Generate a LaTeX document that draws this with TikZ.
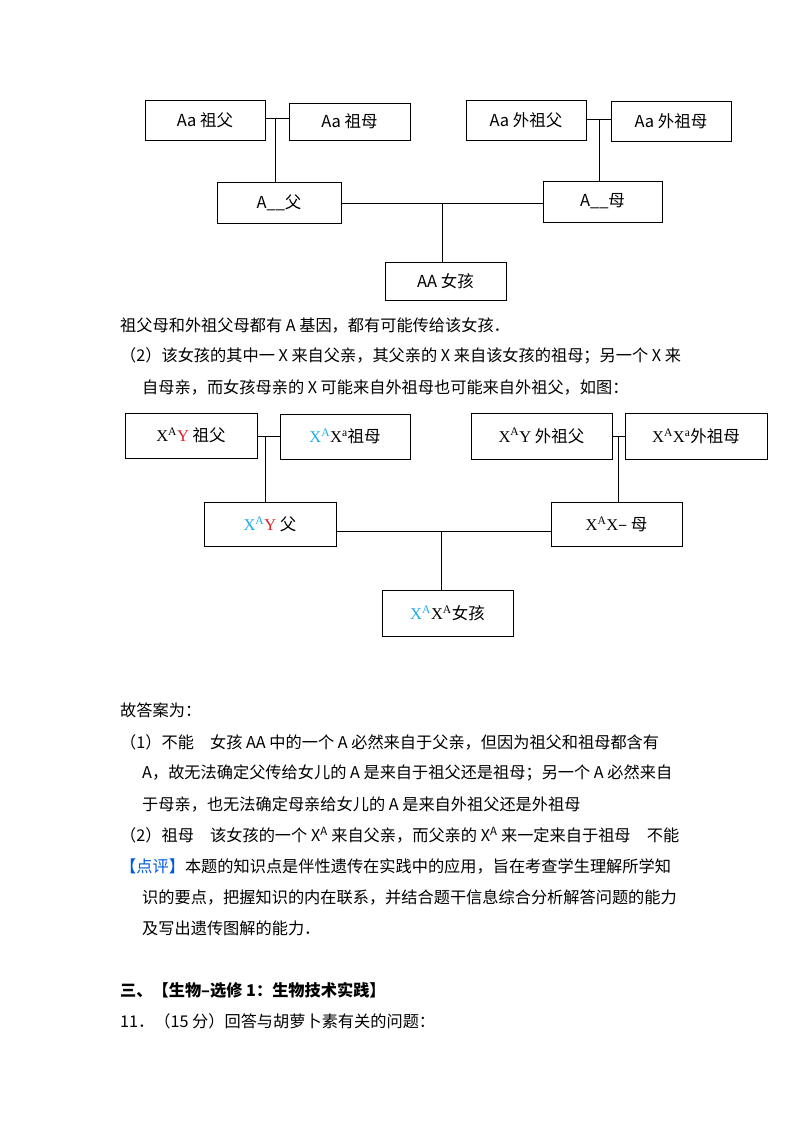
\documentclass[tikz,border=0pt]{standalone}
\usepackage{fontspec}
\setmainfont{Noto Sans CJK SC}
\newfontfamily\tms{Liberation Serif}
\definecolor{cy}{RGB}{30,170,225}
\definecolor{rd}{RGB}{225,30,40}
\definecolor{bl}{RGB}{0,90,220}
\newcommand{\XA}{{\tms X\textsuperscript{A}}}
\newcommand{\Xa}{{\tms X\textsuperscript{a}}}
\newcommand{\TY}{{\tms Y}}
\begin{document}
\begin{tikzpicture}[x=1pt,y=-1pt,
 bx/.style={draw,thick,minimum height=40pt,inner sep=0pt,font=\fontsize{16.5}{19}\selectfont},
 tx/.style={anchor=west,inner sep=0pt,font=\fontsize{16.2}{19}\selectfont},
 ln/.style={thick}]
\useasboundingbox (0,0) rectangle (800,1132);
% diagram 1
\node[bx,minimum width=120pt] (g1) at (205,120) {Aa 祖父};
\node[bx,minimum width=121pt,minimum height=37pt] (g2) at (349.5,121.5) {Aa 祖母};
\node[bx,minimum width=120pt] (g3) at (526,120.5) {Aa 外祖父};
\node[bx,minimum width=120pt] (g4) at (671,121) {Aa 外祖母};
\node[bx,minimum width=124pt,minimum height=41pt] (f1) at (279,202.5) {A\_\_父};
\node[bx,minimum width=119pt,minimum height=41pt] (m1) at (602.5,201.5) {A\_\_母};
\node[bx,minimum width=121pt,minimum height=38pt] (c1) at (445.5,281) {AA 女孩};
\draw[ln] (g1.east|-0,118) -- coordinate[pos=0.45](j1) (g2.west|-0,118);
\draw[ln] (j1) -- (j1|-f1.north);
\draw[ln] (g3.east|-0,119) -- coordinate[pos=0.55](j2) (g4.west|-0,119);
\draw[ln] (j2) -- (j2|-m1.north);
\draw[ln] (f1.east|-0,203) -- coordinate(j3) (m1.west|-0,203);
\draw[ln] (j3) -- (j3|-c1.north);
% text
\node[tx] (t1) at (120,325) {祖父母和外祖父母都有 A 基因，都有可能传给该女孩．};
\node[tx] (t2) at (120,356) {（2）该女孩的其中一 X 来自父亲，其父亲的 X 来自该女孩的祖母；另一个 X 来};
\node[tx] (t3) at (142,387) {自母亲，而女孩母亲的 X 可能来自外祖母也可能来自外祖父，如图：};
% diagram 2
\node[bx,minimum width=132pt,minimum height=45pt] (h1) at (191,435.5) {\XA{\color{rd}\TY} 祖父};
\node[bx,minimum width=130pt,minimum height=45pt] (h2) at (345,436.5) {{\color{cy}\XA}\Xa 祖母};
\node[bx,minimum width=141pt,minimum height=46pt] (h3) at (541.5,436) {\XA\TY{} 外祖父};
\node[bx,minimum width=142pt,minimum height=46pt] (h4) at (696,436) {\XA\Xa 外祖母};
\node[bx,minimum width=132pt,minimum height=44pt] (f2) at (270,524.5) {{\color{cy}\XA}{\color{rd}\TY} 父};
\node[bx,minimum width=131pt,minimum height=44pt] (m2) at (616.5,524.5) {\XA{\tms X}– 母};
\node[bx,minimum width=131pt,minimum height=46pt] (c2) at (447.5,613) {{\color{cy}\XA}\XA 女孩};
\draw[ln] (h1.east|-0,436) -- coordinate[pos=0.35](k1) (h2.west|-0,436);
\draw[ln] (k1) -- (k1|-f2.north);
\draw[ln] (h3.east|-0,436) -- coordinate[pos=0.5](k2) (h4.west|-0,436);
\draw[ln] (k2) -- (k2|-m2.north);
\draw[ln] (f2.east|-0,531) -- coordinate[pos=0.49](k3) (m2.west|-0,531);
\draw[ln] (k3) -- (k3|-c2.north);
% answers
\node[tx] (a0) at (120,710) {故答案为：};
\node[tx] (a1) at (120,742) {（1）不能\quad 女孩 AA 中的一个 A 必然来自于父亲，但因为祖父和祖母都含有};
\node[tx] (a2) at (142,773) {A，故无法确定父传给女儿的 A 是来自于祖父还是祖母；另一个 A 必然来自};
\node[tx] (a3) at (142,804) {于母亲，也无法确定母亲给女儿的 A 是来自外祖父还是外祖母};
\node[tx] (a4) at (120,835) {（2）祖母\quad 该女孩的一个 X\textsuperscript{A} 来自父亲，而父亲的 X\textsuperscript{A} 来一定来自于祖母\quad 不能};
\node[tx] (a5) at (120,866) {{\color{bl}【点评】}本题的知识点是伴性遗传在实践中的应用，旨在考查学生理解所学知};
\node[tx] (a6) at (142,897) {识的要点，把握知识的内在联系，并结合题干信息综合分析解答问题的能力};
\node[tx] (a7) at (142,928) {及写出遗传图解的能力．};
\node[tx,font=\fontsize{16.2}{19}\selectfont\bfseries] (s1) at (120,990) {三、【生物--选修 1：生物技术实践】};
\node[tx] (s2) at (120,1021) {11．（15 分）回答与胡萝卜素有关的问题：};
\end{tikzpicture}
\end{document}
